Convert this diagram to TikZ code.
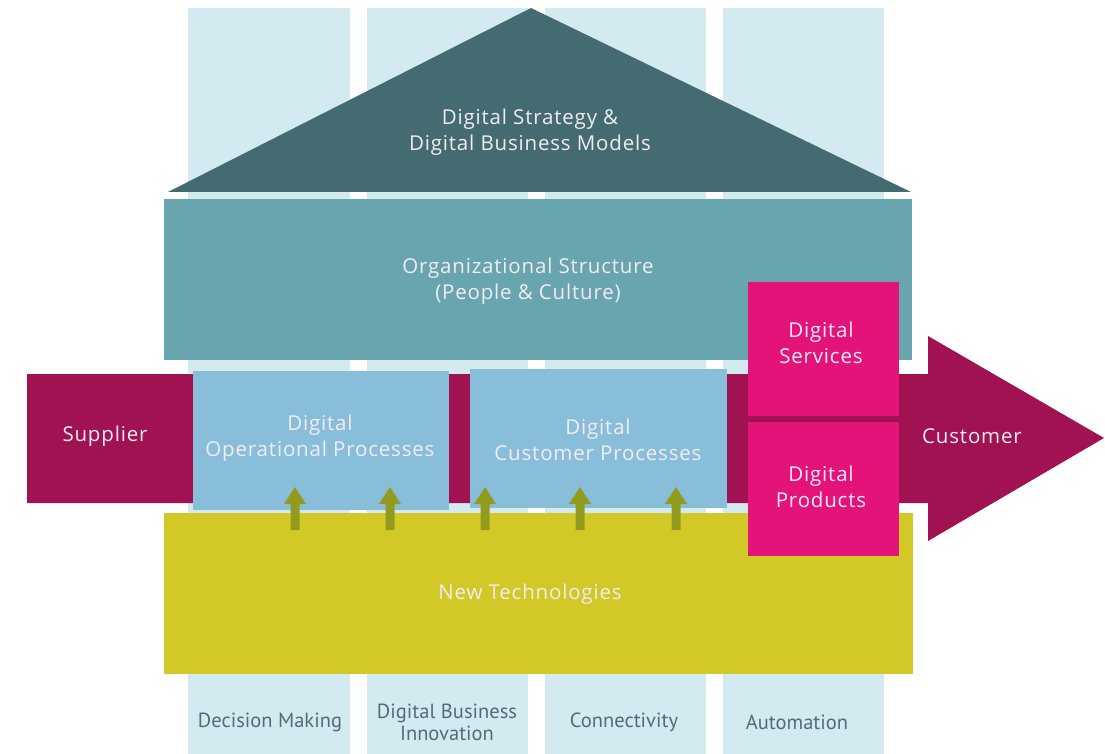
\documentclass[tikz,border=0pt]{standalone}
\usepackage{fontspec}
\setmainfont{PT Sans}
\newfontfamily\lblfont[LetterSpace=4]{Open Sans}
\definecolor{colbg}{HTML}{D3EAF1}
\definecolor{roofc}{HTML}{436B71}
\definecolor{orgc}{HTML}{68A5AE}
\definecolor{bandc}{HTML}{A11252}
\definecolor{procc}{HTML}{89BEDA}
\definecolor{techc}{HTML}{D2C828}
\definecolor{arrc}{HTML}{939B1E}
\definecolor{pinkc}{HTML}{E3137A}
\definecolor{labc}{HTML}{4F6F75}
\definecolor{txtc}{HTML}{F2ECF2}
\begin{document}
\begin{tikzpicture}[x=1pt,y=-1pt,
  lbl/.style={text=txtc,font=\lblfont\fontsize{20.5}{26}\selectfont,align=center,inner sep=0pt},
  collbl/.style={text=labc,font=\fontsize{20.5}{22}\selectfont,align=center,inner sep=0pt},
  upar/.style={fill=arrc,draw=none}]
\useasboundingbox (0,0) rectangle (1105,754);
\fill[white] (0,0) rectangle (1105,754);
% columns
\foreach \xa/\xb in {188/350,367/528,545/706,723/884}{
  \fill[colbg] (\xa,8) rectangle (\xb,754);
}
% roof
\fill[roofc] (168,192) -- (531,8) -- (911,192) -- cycle;
\node[lbl] (roof) at (530,132) {Digital Strategy \&\\Digital Business Models};
% organizational structure
\fill[orgc] (164,199) rectangle (912,360);
\node[lbl] (org) at (528,281) {Organizational Structure\\(People \& Culture)};
% value chain band with arrow head
\fill[bandc] (27,374) -- (928,374) -- (928,336) -- (1104,438) -- (928,541) -- (928,503) -- (27,503) -- cycle;
\node[lbl] (sup) at (105,436) {Supplier};
\node[lbl] (cus) at (972,436) {Customer};
% new technologies
\fill[techc] (164,513) rectangle (913,674);
\node[lbl] (tech) at (530,594) {New Technologies};
% process boxes
\fill[procc] (193,371) rectangle (449,510);
\node[lbl] (op) at (320,438) {Digital\\Operational Processes};
\fill[procc] (470,369) rectangle (727,508);
\node[lbl] (cp) at (598,440) {Digital\\Customer Processes};
% upward arrows
\foreach \ax in {295,390,485,580,676}{
  \fill[upar] (\ax-4.5,530) -- (\ax-4.5,504) -- (\ax-11,504) -- (\ax,487) -- (\ax+11,504) -- (\ax+4.5,504) -- (\ax+4.5,530) -- cycle;
}
% digital services / products
\fill[pinkc] (748,282) rectangle (899,416);
\node[lbl] (serv) at (821,343) {Digital\\Services};
\fill[pinkc] (748,422) rectangle (899,556);
\node[lbl] (prod) at (821,487) {Digital\\Products};
% column labels
\node[collbl] (c1) at (270,722) {Decision Making};
\node[collbl] (c2) at (447,722) {Digital Business\\Innovation};
\node[collbl] (c3) at (624,722) {Connectivity};
\node[collbl] (c4) at (797,722) {Automation};
\end{tikzpicture}
\end{document}
